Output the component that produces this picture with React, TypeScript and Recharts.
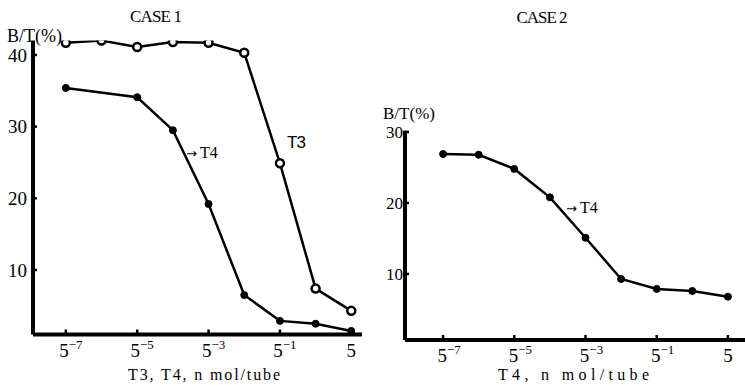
import { LineChart, Line, XAxis, YAxis } from 'recharts'

// x is the power of 5 (n mol/tube), y is B/T in %
const exponents = [-7, -6, -5, -4, -3, -2, -1, 0, 1]
const case1T3 = [41.7, 42.0, 41.1, 41.8, 41.7, 40.3, 24.9, 7.4, 4.3]
const case1T4 = [35.4, null, 34.1, 29.5, 19.2, 6.5, 2.9, 2.5, 1.5]
const case2T4 = [26.9, 26.8, 24.8, 20.8, 15.1, 9.3, 7.9, 7.6, 6.8]

const expTicks = [-7, -5, -3, -1, 1]
const case1YTicks = [10, 20, 30, 40]
const case2YTicks = [10, 20, 30]

const case1Data = exponents.map((e, i) => ({ e, t3: case1T3[i], t4: case1T4[i] }))
const case2Data = exponents.map((e, i) => ({ e, t4: case2T4[i] }))

const SERIF = '"Liberation Serif", "DejaVu Serif", serif'
const serif = (size: number) => ({ fontFamily: SERIF, fontSize: size })

function ExpTick(props: any) {
  const { x, y, payload, shift } = props
  const v = payload.value
  return (
    <g>
      <line x1={x} x2={x} y1={y - 5} y2={y} stroke="#000" strokeWidth={2.5} />
      {v === 1 ? (
        <text x={x} y={y + 22} textAnchor="middle" style={serif(19)} fill="#000">5</text>
      ) : (
        <text x={x + shift} y={y + 22} textAnchor="middle" style={serif(19)} fill="#000">
          5<tspan dy={-8} style={serif(13)}>{'\u2212' + Math.abs(v)}</tspan>
        </text>
      )}
    </g>
  )
}

function ValTick(props: any) {
  const { x, y, payload, gap, size } = props
  return (
    <g>
      <line x1={x} x2={x + 4} y1={y} y2={y} stroke="#000" strokeWidth={2.5} />
      <text x={x - gap} y={y} dy="0.35em" textAnchor="end" style={serif(size)} fill="#000">
        {payload.value}
      </text>
    </g>
  )
}

const axisLine = { stroke: '#000', strokeWidth: 4 }
const arrowStyle = { fontFamily: '"DejaVu Sans", sans-serif', fontSize: 13 }

export default function App() {
  return (
    <div style={{ position: 'absolute', left: 0, top: 0, width: 745, height: 389, background: '#fff' }}>
      <div style={{ position: 'absolute', left: 0, top: 0 }}>
        <LineChart width={370} height={389} data={case1Data} margin={{ top: 40.6, right: 8, bottom: 0, left: 0 }}>
          <XAxis
            dataKey="e"
            type="number"
            domain={[-7.92, 1.3]}
            allowDataOverflow
            ticks={expTicks}
            interval={0}
            tickSize={0}
            tickMargin={0}
            tickLine={false}
            axisLine={axisLine}
            height={54.5}
            tick={(p: any) => <ExpTick {...p} shift={5} />}
          />
          <YAxis
            type="number"
            domain={[1, 42]}
            allowDataOverflow
            ticks={case1YTicks}
            interval={0}
            tickSize={0}
            tickMargin={0}
            tickLine={false}
            axisLine={axisLine}
            width={33}
            tick={(p: any) => <ValTick {...p} gap={6} size={19} />}
          />
          <Line
            dataKey="t3"
            type="linear"
            stroke="#000"
            strokeWidth={2.5}
            dot={{ r: 4, fill: '#fff', stroke: '#000', strokeWidth: 2.5 }}
            isAnimationActive={false}
          />
          <Line
            dataKey="t4"
            type="linear"
            stroke="#000"
            strokeWidth={2.5}
            connectNulls
            dot={{ r: 3.5, fill: '#000', stroke: '#000', strokeWidth: 1 }}
            isAnimationActive={false}
          />
        </LineChart>
      </div>
      <div style={{ position: 'absolute', left: 370, top: 0 }}>
        <LineChart width={375} height={389} data={case2Data} margin={{ top: 130.6, right: 0, bottom: 0, left: 0 }}>
          <XAxis
            dataKey="e"
            type="number"
            domain={[-8.07, 1.48]}
            allowDataOverflow
            ticks={expTicks}
            interval={0}
            tickSize={0}
            tickMargin={0}
            tickLine={false}
            axisLine={axisLine}
            height={49}
            tick={(p: any) => <ExpTick {...p} shift={6} />}
          />
          <YAxis
            type="number"
            domain={[0.7, 30.2]}
            allowDataOverflow
            ticks={case2YTicks}
            interval={0}
            tickSize={0}
            tickMargin={0}
            tickLine={false}
            axisLine={axisLine}
            width={35}
            tick={(p: any) => <ValTick {...p} gap={2} size={17} />}
          />
          <Line
            dataKey="t4"
            type="linear"
            stroke="#000"
            strokeWidth={2.5}
            dot={{ r: 3.5, fill: '#000', stroke: '#000', strokeWidth: 1 }}
            isAnimationActive={false}
          />
        </LineChart>
      </div>
      <svg width={745} height={389} style={{ position: 'absolute', left: 0, top: 0, pointerEvents: 'none' }}>
        <g fill="#000">
          <text x={156} y={22} style={serif(17)} textAnchor="middle" textLength={52}>CASE 1</text>
          <text x={542} y={23} style={serif(17)} textAnchor="middle" textLength={51}>CASE 2</text>
          <text x={7} y={42} style={serif(18)} textLength={55}>B/T(%)</text>
          <text x={383} y={119} style={serif(17)} textLength={52}>B/T(%)</text>
          <text x={287} y={148} style={{ fontFamily: '"Liberation Sans", sans-serif', fontSize: 17 }} textLength={19}>T3</text>
          <text x={186} y={158} style={serif(16)}>
            <tspan style={arrowStyle}>{'\u2192'}</tspan>
            <tspan dx={3}>T4</tspan>
          </text>
          <text x={566} y={213} style={serif(16)}>
            <tspan style={arrowStyle}>{'\u2192'}</tspan>
            <tspan dx={3}>T4</tspan>
          </text>
          <text x={128} y={380} style={serif(16)} textLength={152}>T3, T4, n mol/tube</text>
          <text x={498} y={380} style={serif(16)} textLength={151}>T4, n mol/tube</text>
        </g>
      </svg>
    </div>
  )
}
